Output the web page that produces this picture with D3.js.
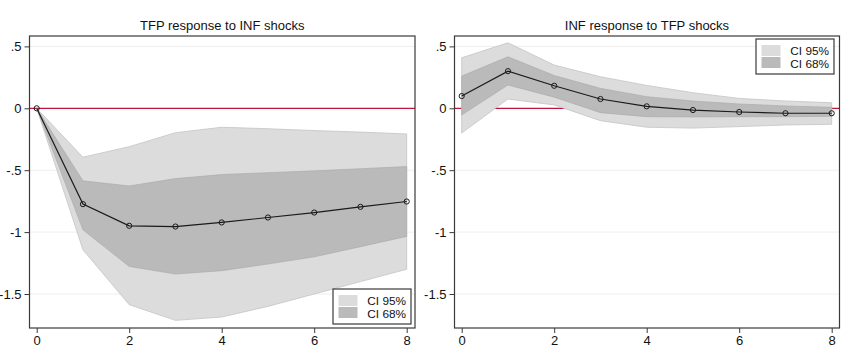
<!DOCTYPE html>
<html>
<head>
<meta charset="utf-8">
<script src="https://cdn.jsdelivr.net/npm/d3@7"></script>
<style>
  body { margin: 0; background: #fff; }
  text { font-family: Arial, "Liberation Sans", sans-serif; fill: #111; }
</style>
</head>
<body>
<svg id="chart"></svg>
<script>
// horizons
const horizons = [0, 1, 2, 3, 4, 5, 6, 7, 8];
const yTicks = [0.5, 0, -0.5, -1, -1.5];
const xTicks = [0, 2, 4, 6, 8];
const yTickLabels = [".5", "0", "-.5", "-1", "-1.5"];
const legendLabels = ["CI 95%", "CI 68%"];

// TFP response to INF shocks
const tfpIrf   = [0, -0.774, -0.949, -0.955, -0.922, -0.882, -0.842, -0.796, -0.753];
const tfpUp95  = [0, -0.395, -0.31, -0.197, -0.153, -0.165, -0.18, -0.192, -0.207];
const tfpLo95  = [0, -1.143, -1.586, -1.713, -1.686, -1.6, -1.5, -1.4, -1.3];
const tfpUp68  = [0, -0.586, -0.627, -0.568, -0.535, -0.52, -0.505, -0.488, -0.47];
const tfpLo68  = [0, -0.982, -1.277, -1.339, -1.312, -1.258, -1.2, -1.118, -1.035];

// INF response to TFP shocks
const infIrf   = [0.099, 0.30, 0.182, 0.075, 0.016, -0.014, -0.03, -0.04, -0.04];
const infUp95  = [0.408, 0.529, 0.349, 0.255, 0.185, 0.126, 0.08, 0.059, 0.045];
const infLo95  = [-0.2, 0.075, 0.027, -0.1, -0.153, -0.16, -0.148, -0.135, -0.129];
const infUp68  = [0.26, 0.416, 0.265, 0.161, 0.094, 0.059, 0.035, 0.019, 0.008];
const infLo68  = [-0.054, 0.188, 0.09, -0.035, -0.068, -0.07, -0.068, -0.068, -0.065];

const width = 850, height = 353;
const svg = d3.select("#chart").attr("width", width).attr("height", height);

const col95 = "#dcdcdc", col68 = "#bababa";

function drawPanel(opts) {
  const x = d3.scaleLinear().domain([0, 8]).range([opts.x0, opts.x8]);
  const y = d3.scaleLinear().domain([0, -1.5]).range([108.3, 294]);
  const top = 36, bottom = 328;
  const g = svg.append("g");

  // title
  g.append("text")
    .attr("x", (opts.left + opts.right) / 2)
    .attr("y", 30)
    .attr("text-anchor", "middle")
    .style("font-size", "13px")
    .text(opts.title);

  // faint grid
  g.selectAll(".grid")
    .data(yTicks.filter(d => d !== 0))
    .join("line")
    .attr("x1", opts.left).attr("x2", opts.right)
    .attr("y1", d => y(d)).attr("y2", d => y(d))
    .attr("stroke", "#eeeeee").attr("stroke-width", 1);

  // zero line
  g.append("line")
    .attr("x1", opts.left).attr("x2", opts.right)
    .attr("y1", y(0)).attr("y2", y(0))
    .attr("stroke", "#c0143c").attr("stroke-width", 1.2);

  const area = (lo, up) => d3.area()
    .x((d, i) => x(horizons[i]))
    .y0((d, i) => y(lo[i]))
    .y1((d, i) => y(up[i]))(horizons);

  g.append("path").attr("d", area(opts.lo95, opts.up95))
    .attr("fill", col95).attr("stroke", "#c4c4c4").attr("stroke-width", 0.8);
  g.append("path").attr("d", area(opts.lo68, opts.up68))
    .attr("fill", col68).attr("stroke", "#a8a8a8").attr("stroke-width", 0.6);

  const line = d3.line().x((d, i) => x(horizons[i])).y(d => y(d));
  g.append("path").attr("d", line(opts.irf))
    .attr("fill", "none").attr("stroke", "#1a1a1a").attr("stroke-width", 1.2);
  g.selectAll(".pt")
    .data(opts.irf)
    .join("circle")
    .attr("cx", (d, i) => x(horizons[i]))
    .attr("cy", d => y(d))
    .attr("r", 2.6)
    .attr("fill", "none")
    .attr("stroke", "#1a1a1a")
    .attr("stroke-width", 1);

  // frame
  g.append("rect")
    .attr("x", opts.left).attr("y", top)
    .attr("width", opts.right - opts.left).attr("height", bottom - top)
    .attr("fill", "none").attr("stroke", "#3a3a3a").attr("stroke-width", 1.2);

  // y axis
  const yAxis = g.append("g").attr("transform", `translate(${opts.left},0)`)
    .call(d3.axisLeft(y).tickValues(yTicks).tickSize(5).tickPadding(3)
      .tickFormat((d, i) => yTickLabels[i]));
  yAxis.select(".domain").remove();
  yAxis.selectAll("line").attr("stroke", "#3a3a3a");
  yAxis.selectAll("text").style("font-size", "13px").style("font-family", "Arial, 'Liberation Sans', sans-serif").attr("fill", "#111");

  // x axis
  const xAxis = g.append("g").attr("transform", `translate(0,${bottom})`)
    .call(d3.axisBottom(x).tickValues(xTicks).tickSize(5).tickPadding(3));
  xAxis.select(".domain").remove();
  xAxis.selectAll("line").attr("stroke", "#3a3a3a");
  xAxis.selectAll("text").style("font-size", "13px").style("font-family", "Arial, 'Liberation Sans', sans-serif").attr("fill", "#111");

  // legend
  const lg = g.append("g").attr("transform", `translate(${opts.legX},${opts.legY})`);
  lg.append("rect").attr("width", 78).attr("height", 35)
    .attr("fill", "#fff").attr("stroke", "#3a3a3a").attr("stroke-width", 1.2);
  lg.selectAll(".sw")
    .data(legendLabels)
    .join("rect")
    .attr("x", 5.5).attr("y", (d, i) => 6 + i * 12)
    .attr("width", 19).attr("height", 11)
    .attr("fill", (d, i) => i === 0 ? col95 : col68);
  lg.selectAll(".lt")
    .data(legendLabels)
    .join("text")
    .attr("x", 73).attr("y", (d, i) => 15.5 + i * 13)
    .attr("text-anchor", "end")
    .style("font-size", "11.8px")
    .text(d => d);
}

drawPanel({
  title: "TFP response to INF shocks",
  left: 29.5, right: 415, x0: 36.7, x8: 406.7,
  irf: tfpIrf, up95: tfpUp95, lo95: tfpLo95, up68: tfpUp68, lo68: tfpLo68,
  legX: 333, legY: 289
});

drawPanel({
  title: "INF response to TFP shocks",
  left: 454.5, right: 839.5, x0: 461.7, x8: 831.7,
  irf: infIrf, up95: infUp95, lo95: infLo95, up68: infUp68, lo68: infLo68,
  legX: 756, legY: 39
});
</script>
</body>
</html>
